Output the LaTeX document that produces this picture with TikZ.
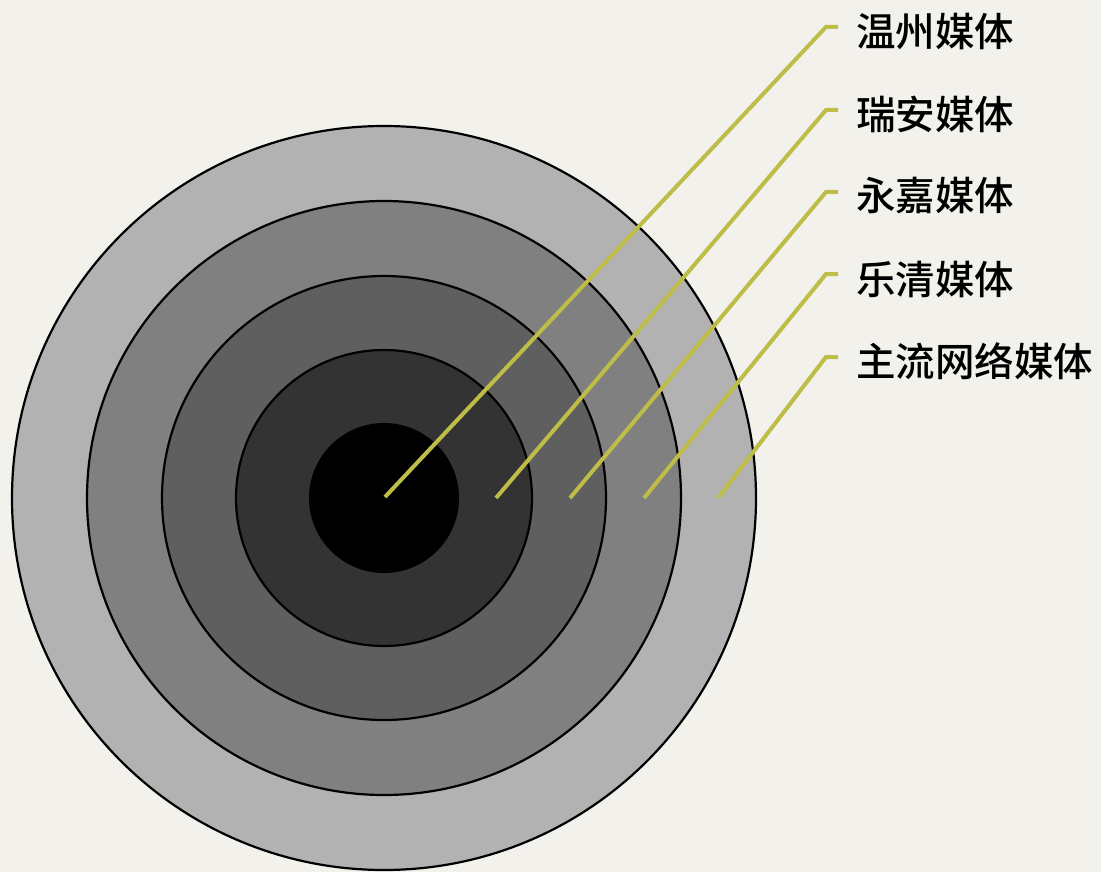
\documentclass[tikz,border=0pt]{standalone}
\usepackage{fontspec}
\newfontfamily\cjk{Noto Sans CJK SC Medium}
\definecolor{bgc}{HTML}{F2F1EC}
\definecolor{lnc}{HTML}{BDBD48}
\begin{document}
\begin{tikzpicture}[x=1pt,y=-1pt,
  ring/.style={circle,draw=black,line width=2.2pt,inner sep=0pt,minimum size=#1},
  lead/.style={draw=lnc,line width=4pt},
  lab/.style={anchor=west,inner sep=0pt,font=\cjk\fontsize{39.5}{42}\selectfont,text=black}]
\fill[bgc] (0,0) rectangle (1101,872);
\useasboundingbox (0,0) rectangle (1101,872);
\node[ring=744pt,fill={rgb,255:red,178;green,178;blue,178}] (r5) at (384,498) {};
\node[ring=594pt,fill={rgb,255:red,128;green,128;blue,128}] (r4) at (384,498) {};
\node[ring=444pt,fill={rgb,255:red,95;green,95;blue,95}] (r3) at (384,498) {};
\node[ring=296pt,fill={rgb,255:red,51;green,51;blue,51}] (r2) at (384,498) {};
\node[circle,inner sep=0pt,minimum size=150pt,fill=black] (r1) at (384,498) {};
% lead start points
\coordinate (s1) at (385,497);
\coordinate (s2) at (496,498);
\coordinate (s3) at (570,498);
\coordinate (s4) at (644,498);
\coordinate (s5) at (718,498);
\coordinate (k1) at (826,27);
\coordinate (k2) at (826,110);
\coordinate (k3) at (826,192);
\coordinate (k4) at (826,274);
\coordinate (k5) at (826,357);
\coordinate (e1) at (838,27);
\coordinate (e2) at (838,110);
\coordinate (e3) at (838,192);
\coordinate (e4) at (838,274);
\coordinate (e5) at (838,357);
\draw[lead] (s1) -- (k1) -- (e1);
\draw[lead] (s2) -- (k2) -- (e2);
\draw[lead] (s3) -- (k3) -- (e3);
\draw[lead] (s4) -- (k4) -- (e4);
\draw[lead] (s5) -- (k5) -- (e5);
\node[lab] (t1) at (856,31) {温州媒体};
\node[lab] (t2) at (856,114) {瑞安媒体};
\node[lab] (t3) at (856,196) {永嘉媒体};
\node[lab] (t4) at (856,279) {乐清媒体};
\node[lab] (t5) at (856,361) {主流网络媒体};
\end{tikzpicture}
\end{document}
